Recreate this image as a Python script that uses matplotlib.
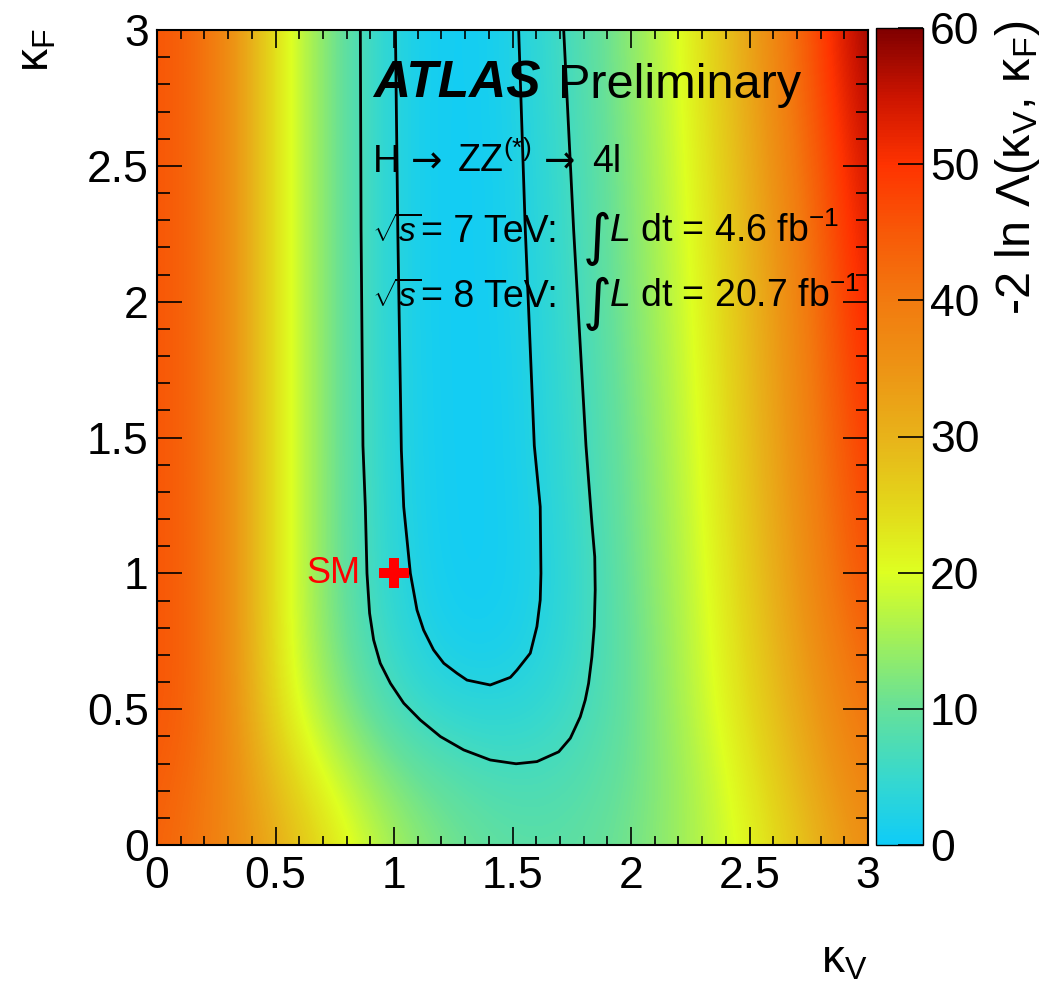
import numpy as np
import matplotlib
matplotlib.use('Agg')
import matplotlib.pyplot as plt
from matplotlib.colors import LinearSegmentedColormap
from matplotlib.ticker import MultipleLocator, FuncFormatter

plt.rcParams['font.family'] = ['Liberation Sans', 'DejaVu Sans']
plt.rcParams['mathtext.fontset'] = 'custom'
plt.rcParams['mathtext.rm'] = 'Liberation Sans'
plt.rcParams['mathtext.it'] = 'Liberation Sans:italic'
plt.rcParams['mathtext.bf'] = 'Liberation Sans:bold'

# grille des noeuds (kappa_V en colonnes, kappa_F en lignes)
kappa_v = [0.0, 0.25, 0.5, 0.75, 1.0, 1.25, 1.5, 1.75, 2.0, 2.25, 2.5, 2.75, 3.0]
kappa_f = [0.0, 0.25, 0.5, 0.75, 1.0, 1.25, 1.5, 1.75, 2.0, 2.25, 2.5, 2.75, 3.0]

# -2 ln Lambda, une ligne par kappa_F
nll = [
    [44, 39, 31, 23, 15, 11, 9, 9, 11, 15.5, 21, 28.5, 37],
    [45, 40, 28, 18.5, 11.5, 8.3, 6.8, 7.5, 10.3, 15.5, 22.5, 31, 39.5],
    [46, 41, 24, 13.5, 6.5, 3.8, 3.5, 5.6, 10, 16.5, 24.5, 33, 42],
    [46, 41, 23, 11, 4.3, 1.0, 1.3, 4.5, 10, 17, 25.5, 35, 44.5],
    [46, 41, 23, 10.5, 3.3, 0.3, 0.8, 4.2, 10.5, 17.5, 26.5, 36.5, 47],
    [46, 41, 23, 10.5, 2.9, 0.2, 0.9, 4.6, 10.8, 18, 27.3, 37.5, 48.5],
    [46, 41, 23, 10.5, 2.7, 0.15, 1.0, 5.0, 11, 18.5, 28, 38.5, 50],
    [46, 41, 23, 10.5, 2.6, 0.1, 1.1, 5.3, 11.5, 19, 28.5, 39.3, 51.5],
    [46, 41, 23, 10.5, 2.5, 0.05, 1.3, 5.6, 12, 19.5, 29, 40, 53],
    [46, 41, 23, 10.5, 2.5, 0.05, 1.4, 5.9, 12.2, 20, 29.8, 41, 54.5],
    [46, 41, 23, 10.5, 2.5, 0.0, 1.5, 6.2, 12.5, 20.5, 30.5, 42.5, 56],
    [46, 41, 23, 10.5, 2.5, 0.0, 1.7, 6.6, 12.8, 21, 31.3, 44, 58],
    [46, 41, 23, 10.5, 2.5, 0.0, 1.8, 7.0, 13, 21.5, 32, 45, 60],
]

# contour 68% CL
kv_68 = [1.006, 1.016, 1.031, 1.041, 1.069, 1.097, 1.125, 1.167, 1.21, 1.266, 1.308, 1.406,
         1.491, 1.519, 1.575, 1.603, 1.617, 1.62, 1.617, 1.592, 1.554, 1.526]
kf_68 = [3.0, 2.264, 1.454, 1.245, 1.0, 0.865, 0.791, 0.718, 0.669, 0.632, 0.607, 0.589,
         0.617, 0.644, 0.706, 0.804, 0.902, 1.0, 1.245, 1.47, 2.264, 3.0]

# contour 95% CL
kv_95 = [0.858, 0.861, 0.869, 0.879, 0.886, 0.897, 0.914, 0.942, 0.985, 1.041, 1.111, 1.196,
         1.294, 1.406, 1.515, 1.603, 1.695, 1.744, 1.786, 1.807, 1.821, 1.835, 1.845, 1.849,
         1.847, 1.835, 1.81, 1.758, 1.716]
kf_95 = [3.0, 2.264, 1.47, 1.245, 1.0, 0.853, 0.755, 0.669, 0.595, 0.522, 0.46, 0.399,
         0.35, 0.313, 0.299, 0.307, 0.343, 0.393, 0.472, 0.534, 0.595, 0.693, 0.804, 0.939,
         1.061, 1.184, 1.47, 2.264, 3.0]

sm_point = (1.0, 1.0)

cb_ticks = [0, 10, 20, 30, 40, 50, 60]

# palette type ROOT
couleurs = [(0.0, (0.06, 0.80, 0.97)),
            (5 / 60, (0.22, 0.85, 0.80)),
            (10 / 60, (0.40, 0.88, 0.60)),
            (15 / 60, (0.63, 0.94, 0.35)),
            (20 / 60, (0.87, 1.00, 0.13)),
            (25 / 60, (0.89, 0.84, 0.10)),
            (30 / 60, (0.91, 0.70, 0.10)),
            (35 / 60, (0.93, 0.58, 0.08)),
            (40 / 60, (0.95, 0.48, 0.06)),
            (45 / 60, (0.97, 0.35, 0.03)),
            (50 / 60, (1.00, 0.20, 0.00)),
            (55 / 60, (0.80, 0.08, 0.00)),
            (1.0, (0.50, 0.00, 0.00))]
cmap = LinearSegmentedColormap.from_list('root', couleurs)

W, H = 1050, 982


def fx(x):
    return x / W


def fy(y):
    return 1 - y / H


fig = plt.figure(figsize=(10.5, 9.82), dpi=100)
ax = fig.add_axes([fx(157), fy(845), (868 - 157) / W, (845 - 30) / H])
cax = fig.add_axes([fx(876), fy(845), (923 - 876) / W, (845 - 28) / H])

z = np.array(nll)
dv = (kappa_v[1] - kappa_v[0]) / 2
df = (kappa_f[1] - kappa_f[0]) / 2
im = ax.imshow(z, origin='lower', cmap=cmap, vmin=0, vmax=60,
               extent=[kappa_v[0] - dv, kappa_v[-1] + dv, kappa_f[0] - df, kappa_f[-1] + df],
               interpolation='bicubic', interpolation_stage='data', aspect='auto')
ax.set_xlim(0, 3)
ax.set_ylim(0, 3)

ax.plot(kv_68, kf_68, color='black', lw=2, solid_joinstyle='round')
ax.plot(kv_95, kf_95, color='black', lw=2, solid_joinstyle='round')

ax.plot(sm_point[0], sm_point[1], marker='P', ms=22, color='red', mec='red', mew=0)
ax.text(0.86, 1.0, 'SM', color='red', fontsize=26, ha='right', va='center')

fmt = FuncFormatter(lambda v, p: '%g' % v)
for axe in (ax.xaxis, ax.yaxis):
    axe.set_major_locator(MultipleLocator(0.5))
    axe.set_minor_locator(MultipleLocator(0.1))
    axe.set_major_formatter(fmt)
ax.tick_params(which='both', direction='in', top=True, right=True, width=1.2, labelsize=32)
ax.tick_params(axis='x', which='major', length=13, pad=8)
ax.tick_params(axis='x', which='minor', length=6.5)
ax.tick_params(axis='y', which='major', length=18, pad=6)
ax.tick_params(axis='y', which='minor', length=9)
for s in ax.spines.values():
    s.set_linewidth(1.5)

cb = fig.colorbar(im, cax=cax, ticks=cb_ticks)
cb.outline.set_linewidth(1)
cax.tick_params(direction='in', length=18, width=1.2, labelsize=32, pad=5)
cax.minorticks_off()

fig.text(fx(1017), fy(20), r'-2 ln $\Lambda$(κ$_\mathrm{V}$, κ$_\mathrm{F}$)', rotation=90,
         ha='center', va='top', fontsize=35)
fig.text(fx(37), fy(28), r'κ$_\mathrm{F}$', rotation=90, ha='center', va='top', fontsize=33)
fig.text(fx(868), fy(982), r'κ$_\mathrm{V}$', ha='right', va='bottom', fontsize=33)

# textes ATLAS
fig.text(fx(373), fy(98), 'ATLAS', fontsize=37, fontweight='bold', fontstyle='italic', va='baseline')
fig.text(fx(558), fy(98), 'Preliminary', fontsize=35, va='baseline')

fig.text(fx(373), fy(172), 'H', fontsize=27, va='baseline')
fig.text(fx(411), fy(172), '→', fontsize=27, va='baseline', family='DejaVu Sans')
fig.text(fx(457), fy(172), 'ZZ$^{(*)}$', fontsize=27, va='baseline')
fig.text(fx(544), fy(172), '→', fontsize=27, va='baseline', family='DejaVu Sans')
fig.text(fx(592), fy(172), '4l', fontsize=27, va='baseline')

for y, e, lumi in [(242, '7', '4.6'), (307, '8', '20.7')]:
    fig.text(fx(372), fy(y), r'$\sqrt{s}$', fontsize=24, va='baseline')
    fig.text(fx(421), fy(y), '= ' + e + ' TeV:', fontsize=27, va='baseline')
    fig.text(fx(583), fy(y + 12), '∫', fontsize=40, va='baseline', family='DejaVu Sans')
    fig.text(fx(609), fy(y), r'$L$ dt = ' + lumi + r' fb$^{-1}$', fontsize=27, va='baseline')

fig.savefig('out.png', dpi=100)
